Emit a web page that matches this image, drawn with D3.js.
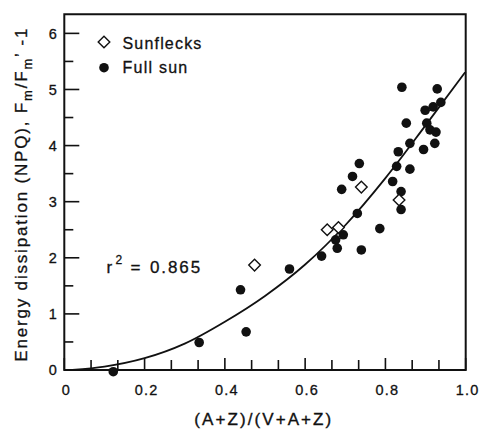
<!DOCTYPE html>
<html>
<head>
<meta charset="utf-8">
</head>
<body style="margin:0;background:#fff">
<div id="chart"></div>
<script src="https://d3js.org/d3.v7.min.js"></script>
<script>
// Full sun (filled circles)
const fullX = [0.122, 0.336, 0.453, 0.439, 0.561, 0.641, 0.680, 0.676, 0.695, 0.740, 0.730,
               0.691, 0.718, 0.735, 0.786, 0.818, 0.828, 0.832, 0.839, 0.839, 0.841, 0.852,
               0.861, 0.861, 0.895, 0.899, 0.903, 0.911, 0.923, 0.926, 0.929, 0.919, 0.938];
const fullY = [-0.03, 0.49, 0.68, 1.43, 1.80, 2.03, 2.17, 2.32, 2.41, 2.14, 2.79,
               3.22, 3.45, 3.68, 2.52, 3.36, 3.63, 3.89, 3.18, 2.86, 5.04, 4.40,
               4.04, 3.58, 3.93, 4.63, 4.40, 4.28, 4.04, 4.24, 5.01, 4.69, 4.77];
// Sunflecks (open diamonds)
const flecksX = [0.474, 0.655, 0.683, 0.740, 0.834];
const flecksY = [1.87, 2.50, 2.54, 3.26, 3.03];
// fitted curve
const curveX = [0.02, 0.1, 0.2, 0.3, 0.4, 0.5, 0.6, 0.7, 0.8, 0.9, 1.0];
const curveY = [0, 0.06, 0.21, 0.47, 0.86, 1.32, 1.88, 2.58, 3.42, 4.36, 5.32];

const yMajor = [0, 1, 2, 3, 4, 5, 6];
const yMinor = [0.5, 1.5, 2.5, 3.5, 4.5, 5.5];
const xMajor = [0, 0.2, 0.4, 0.6, 0.8, 1.0];
const xMinor = [1, 2, 4, 5, 7, 8, 10, 11, 13, 14].map(i => i / 15);

const width = 481, height = 429;
const mLeft = 64.3, mRight = 465.7, mTop = 14.3, mBottom = 370;
const font = '"Liberation Sans", Arial, sans-serif';

const svg = d3.select('#chart').append('svg')
  .attr('width', width).attr('height', height)
  .attr('font-family', font);

const x = d3.scaleLinear().domain([0, 1]).range([mLeft, mRight]);
const y = d3.scaleLinear().domain([0, 6.34]).range([mBottom, mTop]);

// fit a text's width by letter spacing
function fit(sel, target) {
  const n = sel.text().length;
  const w = sel.node().getComputedTextLength();
  sel.style('letter-spacing', ((target - w) / n) + 'px');
}

// frame
svg.append('path')
  .attr('d', `M${mLeft},${mTop}H${mRight}V${mBottom}H${mLeft}Z`)
  .attr('fill', 'none').attr('stroke', '#111').attr('stroke-width', 2);

// tick labels via axes
const yAx = svg.append('g').attr('transform', `translate(${mLeft},0)`)
  .call(d3.axisLeft(y).tickValues(yMajor).tickSize(0).tickPadding(7.5).tickFormat(d3.format('d')));
const xAx = svg.append('g').attr('transform', `translate(0,${mBottom})`)
  .call(d3.axisBottom(x).tickValues(xMajor).tickSize(0).tickPadding(15)
    .tickFormat(d => d === 0 ? '0' : d3.format('.1f')(d)));
svg.selectAll('.domain').remove();
svg.selectAll('.tick text')
  .attr('font-family', font)
  .style('font-size', '14.5px').attr('fill', '#111')
  .attr('stroke', '#111').attr('stroke-width', 0.3);
xAx.selectAll('.tick text').attr('dx', 1.5).style('letter-spacing', '1.2px');

// curve
const curveGen = d3.line().x(d => x(d[0])).y(d => y(d[1])).curve(d3.curveMonotoneX);
svg.append('path')
  .datum(d3.zip(curveX, curveY))
  .attr('d', curveGen)
  .attr('fill', 'none').attr('stroke', '#111').attr('stroke-width', 1.8);

// points
svg.append('g').selectAll('circle')
  .data(d3.zip(fullX, fullY))
  .join('circle')
  .attr('cx', d => x(d[0])).attr('cy', d => y(d[1]))
  .attr('r', 4.8).attr('fill', '#111');

const diamond = s => `M0,${-s}L${s},0L0,${s}L${-s},0Z`;
svg.append('g').selectAll('path')
  .data(d3.zip(flecksX, flecksY))
  .join('path')
  .attr('transform', d => `translate(${x(d[0])},${y(d[1])})`)
  .attr('d', diamond(5.8))
  .attr('fill', '#fff').attr('stroke', '#111').attr('stroke-width', 1.4);

// legend
svg.append('path').attr('transform', 'translate(104,42)').attr('d', diamond(5.8))
  .attr('fill', '#fff').attr('stroke', '#111').attr('stroke-width', 1.4);
svg.append('circle').attr('cx', 104).attr('cy', 67.7).attr('r', 4.8).attr('fill', '#111');
const l1 = svg.append('text').attr('x', 122.5).attr('y', 49.3).attr('fill', '#111')
  .style('font-size', '16px').attr('stroke', '#111').attr('stroke-width', 0.3).text('Sunflecks');
fit(l1, 80);
const l2 = svg.append('text').attr('x', 122.5).attr('y', 73.3).attr('fill', '#111')
  .style('font-size', '16px').attr('stroke', '#111').attr('stroke-width', 0.3).text('Full sun');
fit(l2, 66);

// r squared
const r2g = svg.append('g').attr('fill', '#111')
  .style('font-size', '17px').attr('stroke', '#111').attr('stroke-width', 0.3);
r2g.append('text').attr('x', 106.5).attr('y', 272.7).text('r');
r2g.append('text').attr('x', 115.5).attr('y', 263.5).style('font-size', '12px').text('2');
r2g.append('text').attr('x', 130.5).attr('y', 272.7).text('=');
const r2v = r2g.append('text').attr('x', 150).attr('y', 272.7).text('0.865');
fit(r2v, 52);

// axis titles
const xt = svg.append('text').attr('x', 263.8).attr('y', 425)
  .attr('text-anchor', 'middle').attr('fill', '#111')
  .style('font-size', '17px').attr('stroke', '#111').attr('stroke-width', 0.35)
  .text('(A+Z)/(V+A+Z)');
fit(xt, 139);

const yt = svg.append('text')
  .attr('transform', 'translate(27,194.2) rotate(-90)')
  .attr('text-anchor', 'middle').attr('fill', '#111')
  .style('font-size', '17px').attr('stroke', '#111').attr('stroke-width', 0.3);
yt.append('tspan').text('Energy dissipation (NPQ), F');
yt.append('tspan').attr('dy', 5).style('font-size', '13px').text('m');
yt.append('tspan').attr('dy', -5).text('/F');
yt.append('tspan').attr('dy', 5).style('font-size', '13px').text('m');
yt.append('tspan').attr('dy', -5).text('\u2019 -1');
{
  const n = yt.text().length;
  const w = yt.node().getComputedTextLength();
  yt.style('letter-spacing', ((335 - w) / n) + 'px');
}

// tick marks, pointing inward, drawn last as filled bars
const tickG = svg.append('g').attr('fill', '#111');
tickG.selectAll('rect.ymaj').data(yMajor).join('rect').attr('class', 'ymaj')
  .attr('x', mLeft).attr('width', 15).attr('y', d => y(d) - 0.8).attr('height', 1.6);
tickG.selectAll('rect.ymin').data(yMinor).join('rect').attr('class', 'ymin')
  .attr('x', mLeft).attr('width', 9).attr('y', d => y(d) - 0.8).attr('height', 1.6);
tickG.selectAll('rect.xmaj').data(xMajor).join('rect').attr('class', 'xmaj')
  .attr('x', d => x(d) - 0.8).attr('width', 1.6).attr('y', mBottom - 12).attr('height', 12);
tickG.selectAll('rect.xmin').data(xMinor).join('rect').attr('class', 'xmin')
  .attr('x', d => x(d) - 0.8).attr('width', 1.6).attr('y', mBottom - 10).attr('height', 10);
</script>
</body>
</html>
